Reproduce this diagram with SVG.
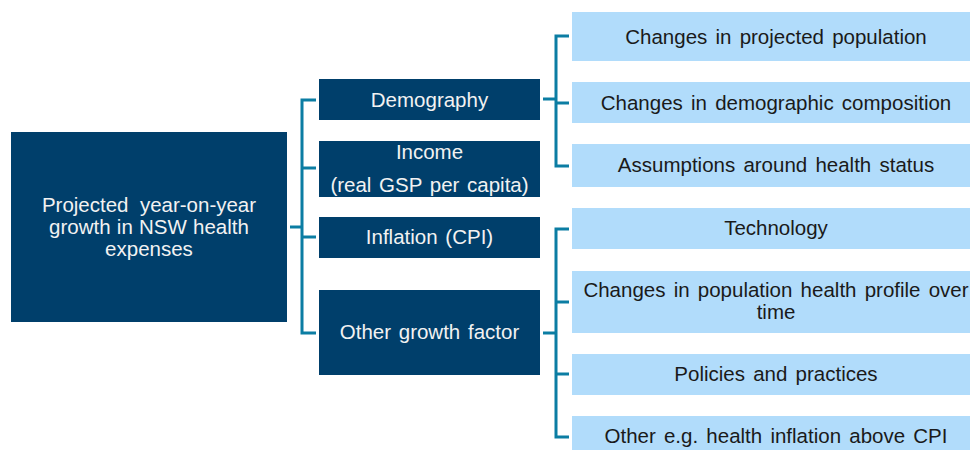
<svg xmlns="http://www.w3.org/2000/svg" width="970" height="450" viewBox="0 0 970 450">
  <style>
    .dark { fill: #003F6B; }
    .light { fill: #B1DCFB; }
    .wt { fill: #F2F2F2; font-family: "Liberation Sans", Arial, sans-serif; font-size: 20.5px; text-anchor: middle; word-spacing: 2px; }
    .bt { fill: #1A1A1A; font-family: "Liberation Sans", Arial, sans-serif; font-size: 20.5px; text-anchor: middle; word-spacing: 2.5px; }
    .conn { fill: none; stroke: #0B7DA3; stroke-width: 3; }
  </style>
  <rect width="970" height="450" fill="#FFFFFF"/>

  <!-- connectors -->
  <g id="connectors" class="conn">
    <!-- root to second level -->
    <path d="M290 227 H302"/>
    <path d="M316 100 H302 V333 H316"/>
    <path d="M302 168 H316"/>
    <path d="M302 237 H316"/>
    <!-- demography to its factors -->
    <path d="M543 99 H556"/>
    <path d="M569 36 H556 V166 H569"/>
    <path d="M556 103 H569"/>
    <!-- other growth factor to its factors -->
    <path d="M543 333 H556"/>
    <path d="M569 229 H556 V437 H569"/>
    <path d="M556 302 H569"/>
    <path d="M556 374 H569"/>
  </g>

  <!-- root -->
  <g id="root">
    <rect class="dark" x="11" y="132" width="276" height="190"/>
    <text class="wt" x="149" y="212" xml:space="preserve" style="word-spacing:0">Projected  year-on-year</text>
    <text class="wt" x="149" y="234" style="word-spacing:0.5px">growth in NSW health</text>
    <text class="wt" x="149" y="256">expenses</text>
  </g>

  <!-- second level -->
  <g id="demography">
    <rect class="dark" x="319" y="79" width="221" height="41"/>
    <text class="wt" x="429.5" y="106.5">Demography</text>
  </g>
  <g id="income">
    <rect class="dark" x="319" y="141" width="221" height="56"/>
    <text class="wt" x="429.5" y="159">Income</text>
    <text class="wt" x="429.5" y="192">(real GSP per capita)</text>
  </g>
  <g id="inflation">
    <rect class="dark" x="319" y="217" width="221" height="41"/>
    <text class="wt" x="429.5" y="244">Inflation (CPI)</text>
  </g>
  <g id="other-growth">
    <rect class="dark" x="319" y="290" width="221" height="85"/>
    <text class="wt" x="429.5" y="339">Other growth factor</text>
  </g>

  <!-- demography factors -->
  <g id="projected-population">
    <rect class="light" x="572" y="12" width="400" height="49"/>
    <text class="bt" x="776" y="43.5">Changes in projected population</text>
  </g>
  <g id="demographic-composition">
    <rect class="light" x="572" y="82" width="400" height="41"/>
    <text class="bt" x="776" y="109.5">Changes in demographic composition</text>
  </g>
  <g id="health-status">
    <rect class="light" x="572" y="144" width="400" height="43"/>
    <text class="bt" x="776" y="172">Assumptions around health status</text>
  </g>

  <!-- other growth factors -->
  <g id="technology">
    <rect class="light" x="572" y="208" width="400" height="41"/>
    <text class="bt" x="776" y="235">Technology</text>
  </g>
  <g id="health-profile">
    <rect class="light" x="572" y="271" width="400" height="62"/>
    <text class="bt" x="776" y="297">Changes in population health profile over</text>
    <text class="bt" x="776" y="319">time</text>
  </g>
  <g id="policies">
    <rect class="light" x="572" y="354" width="400" height="41"/>
    <text class="bt" x="776" y="381">Policies and practices</text>
  </g>
  <g id="other-inflation">
    <rect class="light" x="572" y="416" width="400" height="40"/>
    <text class="bt" x="776" y="443">Other e.g. health inflation above CPI</text>
  </g>
</svg>
